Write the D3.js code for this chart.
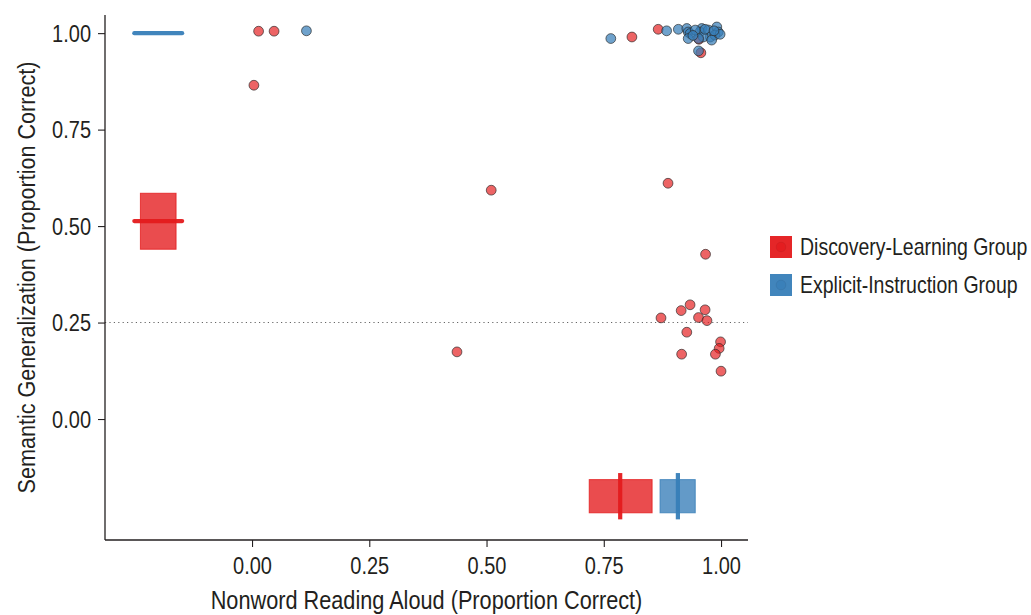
<!DOCTYPE html>
<html>
<head>
<meta charset="utf-8">
<script src="https://cdn.jsdelivr.net/npm/d3@7"></script>
<style>
  html, body { margin: 0; padding: 0; background: #fff; }
  svg text { font-family: "Liberation Sans", Arial, sans-serif; fill: #231f20; }
</style>
</head>
<body>
<svg id="chart" width="1031" height="615"></svg>
<script>
// ---------------- data ----------------
const groups = ["Discovery-Learning Group", "Explicit-Instruction Group"];
const groupColors = ["#e41a1c", "#377eb8"];

const xTickValues = [0, 0.25, 0.5, 0.75, 1];
const xTickLabels = ["0.00", "0.25", "0.50", "0.75", "1.00"];
const yTickValues = [0, 0.25, 0.5, 0.75, 1];
const yTickLabels = ["0.00", "0.25", "0.50", "0.75", "1.00"];
const chanceLevel = 0.25;

// Discovery-learning participants (nonword reading, semantic generalization)
const discoveryX = [0.014, 0.047, 0.004, 0.510, 0.437, 0.887, 0.967, 0.934, 0.915, 0.966,
                    0.872, 0.952, 0.970, 0.927, 0.999, 0.996, 0.916, 0.988, 1.000,
                    0.810, 0.866, 0.953, 0.957];
const discoveryY = [1.005, 1.005, 0.865, 0.593, 0.174, 0.611, 0.427, 0.296, 0.281, 0.283,
                    0.262, 0.263, 0.255, 0.225, 0.200, 0.183, 0.168, 0.168, 0.124,
                    0.990, 1.010, 0.984, 0.949];

// Explicit-instruction participants
const explicitX = [0.765, 0.116, 0.884, 0.909, 0.927, 0.930, 0.934, 0.930, 0.959, 0.955,
                   0.973, 0.977, 0.991, 0.994, 0.987, 0.998, 0.962, 0.980, 0.952, 0.952,
                   0.945, 0.966, 0.940, 0.985];
const explicitY = [0.986, 1.006, 1.006, 1.010, 1.012, 1.003, 0.999, 0.986, 1.012, 1.003,
                   1.008, 0.990, 1.016, 1.003, 0.995, 0.997, 0.990, 0.982, 0.986, 0.954,
                   1.008, 1.010, 0.994, 1.006];

// Group means and confidence intervals
const meanX  = [0.785, 0.908];
const ciXLow = [0.719, 0.870];
const ciXHigh= [0.853, 0.945];
const meanY  = [0.513, 1.000];
const ciYLow = [0.440, 1.000];
const ciYHigh= [0.585, 1.000];
const marginalPos = -0.2;   // where summaries are drawn on each axis

const xLabel = "Nonword Reading Aloud (Proportion Correct)";
const yLabel = "Semantic Generalization (Proportion Correct)";

// ---------------- layout ----------------
const svg = d3.select("#chart");
const panel = { left: 105, right: 748, top: 15, bottom: 540 };
const x = d3.scaleLinear().domain([-0.3135, 1.0575]).range([panel.left, panel.right]);
const y = d3.scaleLinear().domain([-0.3135, 1.047]).range([panel.bottom, panel.top]);

const boxHalfX = 0.038, lineHalfX = 0.051;  // left marginal (x units)
const boxHalfY = 0.043, lineHalfY = 0.060;  // bottom marginal (y units)
const tall = 1.15;                            // narrow-font emulation (vertical stretch)

// chance line
svg.append("line")
  .attr("x1", panel.left).attr("x2", panel.right)
  .attr("y1", y(chanceLevel)).attr("y2", y(chanceLevel))
  .attr("stroke", "#666").attr("stroke-width", 1.1)
  .attr("stroke-dasharray", "1.2,3.2");

// points
const pts = [
  discoveryX.map((v, i) => ({ x: v, y: discoveryY[i], g: 0 })),
  explicitX.map((v, i) => ({ x: v, y: explicitY[i], g: 1 }))
];
const pointAlpha = [0.68, 0.72];
pts.forEach((arr, gi) => {
  svg.append("g").selectAll("circle").data(arr).enter().append("circle")
    .attr("cx", d => x(d.x)).attr("cy", d => y(d.y)).attr("r", 4.9)
    .attr("fill", groupColors[gi]).attr("fill-opacity", pointAlpha[gi])
    .attr("stroke", "#2b2b2b").attr("stroke-opacity", 0.85).attr("stroke-width", 0.8);
});

// left marginal summaries (semantic generalization)
groups.forEach((g, i) => {
  const c = groupColors[i];
  svg.append("rect")
    .attr("x", x(marginalPos - boxHalfX)).attr("width", x(marginalPos + boxHalfX) - x(marginalPos - boxHalfX))
    .attr("y", y(ciYHigh[i])).attr("height", Math.max(0, y(ciYLow[i]) - y(ciYHigh[i])))
    .attr("fill", c).attr("fill-opacity", 0.78)
    .attr("stroke", c).attr("stroke-opacity", 0.8).attr("stroke-width", 1);
  svg.append("line")
    .attr("x1", x(marginalPos - lineHalfX)).attr("x2", x(marginalPos + lineHalfX))
    .attr("y1", y(meanY[i])).attr("y2", y(meanY[i]))
    .attr("stroke", c).attr("stroke-width", 4.2).attr("stroke-opacity", 0.95)
    .attr("stroke-linecap", "round");
});

// bottom marginal summaries (nonword reading)
groups.forEach((g, i) => {
  const c = groupColors[i];
  svg.append("rect")
    .attr("x", x(ciXLow[i])).attr("width", x(ciXHigh[i]) - x(ciXLow[i]))
    .attr("y", y(marginalPos + boxHalfY)).attr("height", y(marginalPos - boxHalfY) - y(marginalPos + boxHalfY))
    .attr("fill", c).attr("fill-opacity", 0.78)
    .attr("stroke", c).attr("stroke-opacity", 0.8).attr("stroke-width", 1);
  svg.append("line")
    .attr("x1", x(meanX[i])).attr("x2", x(meanX[i]))
    .attr("y1", y(marginalPos + lineHalfY)).attr("y2", y(marginalPos - lineHalfY))
    .attr("stroke", c).attr("stroke-width", 4.2).attr("stroke-opacity", 0.95);
});

// axes
const xAxis = d3.axisBottom(x).tickValues(xTickValues)
  .tickFormat((d, i) => xTickLabels[i]).tickSize(7).tickPadding(0);
const yAxis = d3.axisLeft(y).tickValues(yTickValues)
  .tickFormat((d, i) => yTickLabels[i]).tickSize(7).tickPadding(7);

const gx = svg.append("g").attr("transform", `translate(0,${panel.bottom})`).call(xAxis);
const gy = svg.append("g").attr("transform", `translate(${panel.left},0)`).call(yAxis);
[gx, gy].forEach(g => {
  g.select(".domain").attr("stroke", "#231f20").attr("stroke-width", 1.3);
  g.selectAll(".tick line").attr("stroke", "#231f20").attr("stroke-width", 1.1);
  g.selectAll(".tick text").style("font-size", "20px").attr("fill", "#231f20")
    .style("font-family", "'Liberation Sans', Arial, sans-serif");
});
// x tick labels: baseline placed below the tick, stretched vertically
gx.selectAll(".tick text").attr("y", 0).attr("dy", null)
  .attr("transform", `translate(0,34) scale(1,${tall})`);
// y tick labels: centred on tick, stretched vertically around that centre
gy.selectAll(".tick text").attr("dy", null).attr("y", 0)
  .attr("transform", `translate(-14,8) scale(1,${tall})`).attr("x", 0);
gx.select(".domain").attr("d", `M${panel.left},0H${panel.right}`);
gy.select(".domain").attr("d", `M0,${panel.top}V${panel.bottom}`);

// axis titles
svg.append("text")
  .attr("transform", `translate(${(panel.left + panel.right) / 2},609) scale(1,${tall})`)
  .attr("text-anchor", "middle").style("font-size", "21.7px").text(xLabel);
svg.append("text")
  .attr("transform", `translate(35,${(panel.top + panel.bottom) / 2}) rotate(-90) scale(1,${tall})`)
  .attr("text-anchor", "middle").style("font-size", "21.6px").text(yLabel);

// legend
const legend = svg.append("g").attr("transform", "translate(770,236)");
groups.forEach((g, i) => {
  const row = legend.append("g").attr("transform", `translate(0,${i * 38})`);
  row.append("rect").attr("width", 22).attr("height", 22)
    .attr("fill", groupColors[i]).attr("fill-opacity", 0.95);
  row.append("circle").attr("cx", 11).attr("cy", 11).attr("r", 4.9)
    .attr("fill", groupColors[i]).attr("fill-opacity", 0.7)
    .attr("stroke", "#2b2b2b").attr("stroke-opacity", 0.08);
  row.append("text").attr("transform", `translate(30,19) scale(1,1.2)`)
    .style("font-size", "19.5px").text(g);
});
</script>
</body>
</html>
